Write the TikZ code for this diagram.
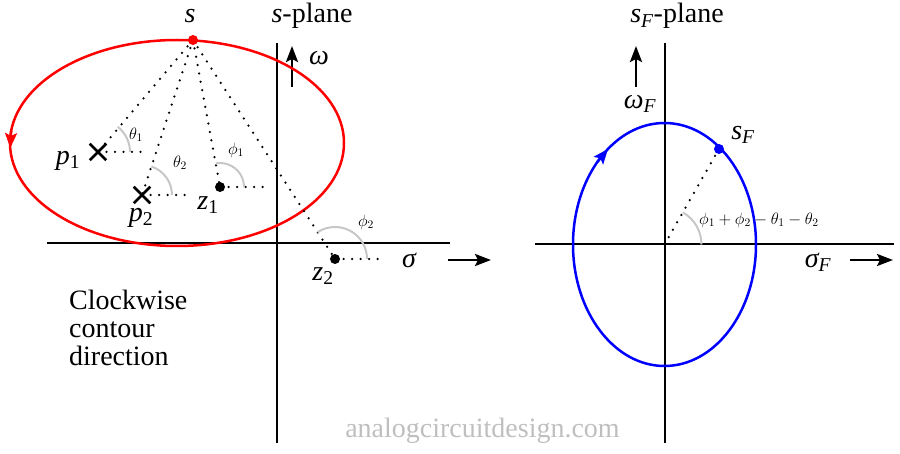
\RequirePackage{fix-cm}
\documentclass[tikz,border=0pt]{standalone}
\usepackage{fontspec}
\setmainfont{Liberation Serif}
\usetikzlibrary{arrows.meta,calc,shapes.misc}
\begin{document}
\begin{tikzpicture}[x=1pt,y=1pt,
  axis/.style={line width=2pt},
  dotline/.style={line width=2.5pt,line cap=round,dash pattern=on 0pt off 8.5pt},
  anglearc/.style={line width=2pt,draw=black!22},
  redcurve/.style={line width=2.5pt,draw=red},
  bluecurve/.style={line width=2.5pt,draw=blue},
  arr/.style={line width=2.5pt,-{Stealth[length=16pt,width=12pt,inset=3pt]}},
  ctip/.style={-{Stealth[length=15pt,width=12pt,inset=3pt]}},
  lbl/.style={font=\fontsize{28}{30}\selectfont\itshape, inner sep=0pt},
  anglbl/.style={font=\fontsize{16.5}{18}\selectfont, inner sep=0pt},
  dotpt/.style={circle,fill,inner sep=0pt,minimum size=10pt},
  xmark/.style={cross out,draw,line width=2.5pt,minimum size=14pt,inner sep=0pt}]
\useasboundingbox (0,0) rectangle (900,453);

% ---------------- left: s-plane ----------------
\coordinate (Lc) at (177,310);
\coordinate (s) at (193,413);
\coordinate (p1) at (98,301);
\coordinate (p2) at (142,258);
\coordinate (z1) at (220,266);
\coordinate (z2) at (335,194);
\coordinate (LxA) at (47,209.5);
\coordinate (LxB) at (450,209.5);
\coordinate (LyA) at (277,10);
\coordinate (LyB) at (277,410);
\coordinate (wA) at (292,366);
\coordinate (wB) at (292,407);
\coordinate (sgA) at (448,193);
\coordinate (sgB) at (491,193);
\coordinate (p1h) at (143,301);
\coordinate (p2h) at (187,258);
\coordinate (z1h) at (265,266);
\coordinate (z2h) at (380,194);
\coordinate (rA) at (11.1,322);
\coordinate (rB) at (10.3,305);

\draw[axis] (LxA) -- (LxB);
\draw[axis] (LyA) -- (LyB);
\draw[arr] (wA) -- (wB);
\draw[arr] (sgA) -- (sgB);

\draw[redcurve] (Lc) ellipse [x radius=167, y radius=103];
\draw[redcurve,ctip,red] (rA) -- (rB);

\draw[dotline] (s) -- (p1);
\draw[dotline] (s) -- (p2);
\draw[dotline] (s) -- (z1);
\draw[dotline] (s) -- (z2);
\draw[dotline] (p1) -- (p1h);
\draw[dotline] (p2) -- (p2h);
\draw[dotline] (z1) -- (z1h);
\draw[dotline] (z2) -- (z2h);

\draw[anglearc] ($(p1)+(32,0)$) arc[start angle=0, end angle=52, radius=32];
\draw[anglearc] ($(p2)+(30,0)$) arc[start angle=0, end angle=72, radius=30];
\draw[anglearc] ($(z1)+(24,0)$) arc[start angle=0, end angle=100, radius=24];
\draw[anglearc] ($(z2)+(32,0)$) arc[start angle=0, end angle=123, radius=32];

\node[xmark] (p1x) at (p1) {};
\node[xmark] (p2x) at (p2) {};
\node[dotpt] (z1d) at (z1) {};
\node[dotpt] (z2d) at (z2) {};
\node[dotpt,red] (sd) at (s) {};

\node[anglbl] (t1) at (136,318) {$\theta_1$};
\node[anglbl] (t2) at (180,290) {$\theta_2$};
\node[anglbl] (f1) at (236,303) {$\phi_1$};
\node[anglbl] (f2) at (366,231) {$\phi_2$};

\node[lbl,anchor=base] (slab) at (190,430) {s};
\node[lbl,anchor=base] (splane) at (312,430) {s\upshape-plane};
\node[lbl] (wlab) at (319,395) {ω};
\node[lbl] (p1lab) at (68,292) {p\textsubscript{\upshape 1}};
\node[lbl] (p2lab) at (141,235) {p\textsubscript{\upshape 2}};
\node[lbl] (z1lab) at (208,248) {z\textsubscript{\upshape 1}};
\node[lbl] (z2lab) at (323,177) {z\textsubscript{\upshape 2}};
\node[lbl] (sglab) at (409,193) {σ};

\node[anchor=north west, align=left, inner sep=0pt,
      font=\fontsize{28}{28}\selectfont] (cw) at (69,163) {Clockwise\\contour\\direction};

\node[anchor=base, inner sep=0pt, text=black!25,
      font=\fontsize{28}{30}\selectfont] (wm) at (482.5,16) {analogcircuitdesign.com};

% ---------------- right: sF-plane ----------------
\coordinate (O) at (664.5,208.5);
\coordinate (sF) at (719,304);
\coordinate (RxA) at (535,208.5);
\coordinate (RxB) at (894,208.5);
\coordinate (RyA) at (664.5,10);
\coordinate (RyB) at (664.5,410);
\coordinate (wFA) at (636,366);
\coordinate (wFB) at (636,407);
\coordinate (sFA) at (850,193);
\coordinate (sFB) at (893,193);
\coordinate (bA) at (597.3,291);
\coordinate (bB) at (608,304);

\draw[axis] (RxA) -- (RxB);
\draw[axis] (RyA) -- (RyB);
\draw[arr] (wFA) -- (wFB);
\draw[arr] (sFA) -- (sFB);

\draw[bluecurve] (O) ellipse [x radius=91.5, y radius=121.5];
\draw[bluecurve,ctip,blue] (bA) -- (bB);

\draw[dotline] (O) -- (sF);
\draw[anglearc] ($(O)+(37,0)$) arc[start angle=0, end angle=60, radius=37];
\node[dotpt,blue] (sFd) at (sF) {};

\node[lbl] (sFlab) at (743,318) {s\textsubscript{F}};
\node[lbl] (wFlab) at (640,349) {ω\textsubscript{F}};
\node[lbl] (sgFlab) at (818,191) {σ\textsubscript{F}};
\node[lbl,anchor=base] (sFplane) at (677,430) {s\textsubscript{F}\upshape-plane};
\node[anglbl,anchor=west] (sum) at (699,233) {$\phi_1+\phi_2-\theta_1-\theta_2$};
\end{tikzpicture}
\end{document}
